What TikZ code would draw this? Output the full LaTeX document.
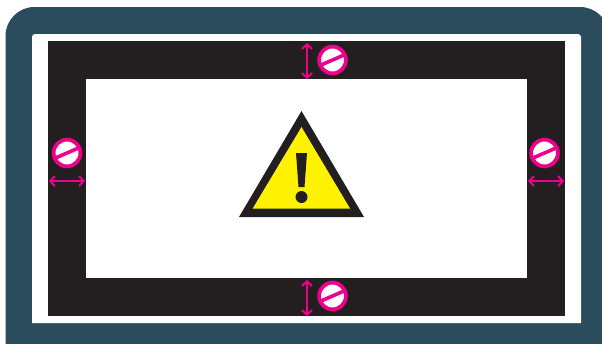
\documentclass[tikz,border=0pt]{standalone}
\usepackage{xcolor}
\usetikzlibrary{arrows.meta,positioning}
\definecolor{bezelteal}{HTML}{2B4C5D}
\definecolor{panelblack}{HTML}{231F20}
\definecolor{signpink}{HTML}{EC008C}
\definecolor{warnyellow}{HTML}{FFF200}
\begin{document}
\begin{tikzpicture}[x=1pt,y=-1pt,
 panel/.style={rectangle,inner sep=0pt,outer sep=0pt},
 nosign/.style={circle,draw=signpink,line width=3.8pt,fill=white,inner sep=0pt,outer sep=0pt,minimum size=26.8pt,
  path picture={\draw[signpink,line width=3.6pt] (path picture bounding box.center)+(-15pt,-6.5pt)--+(15pt,6.5pt);}},
 line/.style={{Straight Barb[length=4.5pt,width=10pt,line width=2pt]}-{Straight Barb[length=4.5pt,width=10pt,line width=2pt]},signpink,line width=2.3pt}]
\useasboundingbox (0,0) rectangle (602,343);
\clip (0,0) rectangle (602,343);
\node[panel,anchor=north west,fill=bezelteal,rounded corners=29pt,minimum width=603.5pt,minimum height=370pt] (bezel) at (5.5,7) {};
\fill[white] (32,323) [rounded corners=3pt]--(32,34)--(581,34)[sharp corners]--(581,323)--cycle;
\node[panel,anchor=north west,fill=panelblack,minimum width=517pt,minimum height=275pt] (border) at (48,41) {};
\node[panel,anchor=north west,fill=white,minimum width=441pt,minimum height=199pt] (screen) at (86,79) {};
% warning triangle
\fill[panelblack] (301.5,111)--(364,217)--(239,217)--cycle;
\fill[warnyellow] (301.5,127)--(350,208.5)--(252.7,208.5)--cycle;
\fill[panelblack] (296,153)--(307,153)--(304.5,187)--(298.5,187)--cycle;
\fill[panelblack] (301.5,197) circle (6pt);
% margin signs
\node[nosign] (signl) at (67,153) {};
\node[nosign] (signr) at (544.5,153) {};
\node[nosign] (signt) at (332.5,60) {};
\node[nosign] (signb) at (332.5,296) {};
\coordinate (la) at (49,181);
\coordinate (lb) at (85,181);
\coordinate (ra) at (528,181);
\coordinate (rb) at (564,181);
\coordinate (ta) at (307,43);
\coordinate (tb) at (307,79);
\coordinate (ba) at (307,280);
\coordinate (bb) at (307,316);
\draw[line] (la)--(lb);
\draw[line] (ra)--(rb);
\draw[line] (ta)--(tb);
\draw[line] (ba)--(bb);
\end{tikzpicture}
\end{document}
